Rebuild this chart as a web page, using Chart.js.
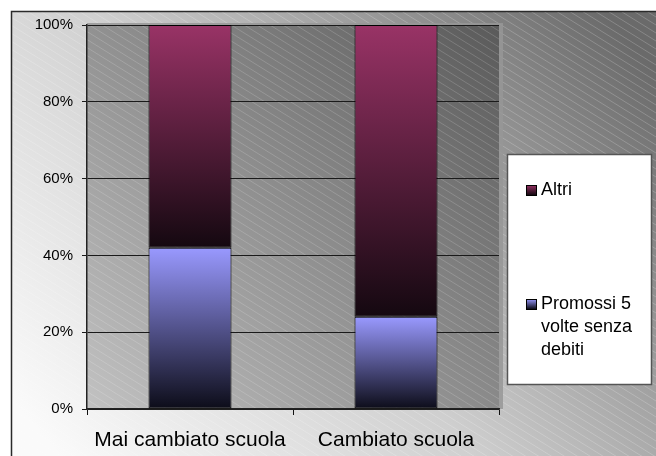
<!DOCTYPE html>
<html>
<head>
<meta charset="utf-8">
<style>
  html, body { margin: 0; padding: 0; background: #ffffff; }
  #wrap { width: 656px; height: 456px; position: relative; }
</style>
<script src="https://cdn.jsdelivr.net/npm/chart.js@4/dist/chart.umd.min.js"></script>
</head>
<body>
<div id="wrap"><canvas id="c" width="656" height="456"></canvas></div>
<script>
// Categories and series (percent of pupils in each group)
const categories = ['Mai cambiato scuola', 'Cambiato scuola'];
const promossiLabel = 'Promossi 5 volte senza debiti';
const promossiValues = [42, 24];
const altriLabel = 'Altri';
const altriValues = [58, 76];
const yTickValues = [0, 20, 40, 60, 80, 100];

const FONT = "Arial, 'Liberation Sans', sans-serif";

// vertical gradient for one stacked segment, bright at its top, dark at its base
function segmentGradient(chart, topColor, bottomColor, startVal, endVal) {
  const y = chart.scales.y;
  const g = chart.ctx.createLinearGradient(0, y.getPixelForValue(endVal), 0, y.getPixelForValue(startVal));
  g.addColorStop(0, topColor);
  g.addColorStop(1, bottomColor);
  return g;
}

const palettes = [
  { top: '#9999ff', bottom: '#0c0c18' },
  { top: '#993366', bottom: '#140810' }
];

function fillFor(dsIndex) {
  return function (ctx) {
    const chart = ctx.chart;
    if (!chart.chartArea || ctx.type !== 'data') return palettes[dsIndex].top;
    const i = ctx.dataIndex;
    let start = 0;
    for (let d = 0; d < dsIndex; d++) start += chart.data.datasets[d].data[i];
    const end = start + chart.data.datasets[dsIndex].data[i];
    return segmentGradient(chart, palettes[dsIndex].top, palettes[dsIndex].bottom, start, end);
  };
}

// diagonal light hatching over a rectangle
function hatch(ctx, x0, y0, x1, y1, alpha) {
  ctx.save();
  ctx.beginPath();
  ctx.rect(x0, y0, x1 - x0, y1 - y0);
  ctx.clip();
  ctx.strokeStyle = 'rgba(255,255,255,' + alpha + ')';
  ctx.lineWidth = 1;
  const slope = 0.62;
  const w = x1 - x0;
  for (let b = y0 - w * slope - 10; b < y1 + 10; b += 8) {
    ctx.beginPath();
    ctx.moveTo(x0, b);
    ctx.lineTo(x1, b + w * slope);
    ctx.stroke();
  }
  ctx.restore();
}

const backdrop = {
  id: 'backdrop',
  beforeDraw(chart) {
    const ctx = chart.ctx;
    const W = chart.width, H = chart.height;
    const a = chart.chartArea;
    ctx.save();
    // outer chart panel
    const og = ctx.createLinearGradient(60, H, W - 60, 0);
    og.addColorStop(0, '#fafafa');
    og.addColorStop(0.45, '#cfcfcf');
    og.addColorStop(1, '#6a6a6a');
    ctx.fillStyle = og;
    ctx.fillRect(11, 11, W, H);
    hatch(ctx, 11, 11, W, H, 0.2);
    ctx.strokeStyle = '#2a2a2a';
    ctx.lineWidth = 1.5;
    ctx.beginPath();
    ctx.moveTo(11.5, H + 2);
    ctx.lineTo(11.5, 11.5);
    ctx.lineTo(W + 2, 11.5);
    ctx.stroke();

    // raised wall rim
    ctx.fillStyle = 'rgba(150,150,150,0.85)';
    ctx.fillRect(a.left, a.top - 2, a.right - a.left + 4, a.bottom - a.top + 2);

    // plot wall
    const pg = ctx.createLinearGradient(a.left, a.bottom, a.right, a.top);
    pg.addColorStop(0, '#c2c2c2');
    pg.addColorStop(0.5, '#8e8e8e');
    pg.addColorStop(1, '#5a5a5a');
    ctx.fillStyle = pg;
    ctx.fillRect(a.left, a.top, a.right - a.left, a.bottom - a.top);
    hatch(ctx, a.left, a.top, a.right, a.bottom, 0.17);
    ctx.restore();
  }
};

// boxed legend on the right
const sideLegend = {
  id: 'sideLegend',
  afterDraw(chart) {
    const ctx = chart.ctx;
    const box = { x: 507.5, y: 154.5, w: 144, h: 230 };
    ctx.save();
    ctx.fillStyle = '#ffffff';
    ctx.fillRect(box.x, box.y, box.w, box.h);
    ctx.strokeStyle = '#555555';
    ctx.lineWidth = 1.5;
    ctx.strokeRect(box.x, box.y, box.w, box.h);

    const entries = [
      { ds: 1, y: 190 },
      { ds: 0, y: 304 }
    ];
    ctx.font = '18px ' + FONT;
    ctx.textBaseline = 'middle';
    ctx.textAlign = 'left';
    for (const e of entries) {
      const label = chart.data.datasets[e.ds].label;
      // wrap the label to the box width
      const words = label.split(' ');
      const lines = [];
      let cur = '';
      for (const w of words) {
        const t = cur ? cur + ' ' + w : w;
        if (ctx.measureText(t).width > 100 && cur) { lines.push(cur); cur = w; } else cur = t;
      }
      lines.push(cur);
      const sx = 526, sy = e.y - 5;
      const sg = ctx.createLinearGradient(0, sy, 0, sy + 10);
      sg.addColorStop(0, palettes[e.ds].top);
      sg.addColorStop(1, palettes[e.ds].bottom);
      ctx.fillStyle = sg;
      ctx.fillRect(sx, sy, 10, 10);
      ctx.strokeStyle = '#000';
      ctx.lineWidth = 1;
      ctx.strokeRect(sx + 0.5, sy + 0.5, 10, 10);
      ctx.fillStyle = '#000';
      lines.forEach((ln, k) => ctx.fillText(ln, 541, e.y + k * 23));
    }
    ctx.restore();
  }
};

new Chart(document.getElementById('c'), {
  type: 'bar',
  data: {
    labels: categories,
    datasets: [
      { label: promossiLabel, data: promossiValues, backgroundColor: fillFor(0),
        borderColor: '#000', borderWidth: 1, borderSkipped: false },
      { label: altriLabel, data: altriValues, backgroundColor: fillFor(1),
        borderColor: '#000', borderWidth: 1, borderSkipped: false }
    ]
  },
  options: {
    responsive: false,
    animation: false,
    devicePixelRatio: 1,
    layout: { padding: { left: 0, top: 25, right: 157, bottom: 0 } },
    datasets: { bar: { categoryPercentage: 1, barPercentage: 0.403 } },
    plugins: { legend: { display: false }, tooltip: { enabled: false } },
    scales: {
      x: {
        stacked: true,
        afterFit(s) { s.height = 47; },
        grid: { offset: true, drawOnChartArea: false, color: '#111', tickLength: 6 },
        border: { color: '#222', width: 1.5 },
        ticks: { color: '#000', font: { family: FONT, size: 21 }, padding: 13, maxRotation: 0 }
      },
      y: {
        stacked: true,
        min: 0, max: 100,
        afterFit(s) { s.width = 87; },
        afterBuildTicks(s) { s.ticks = yTickValues.map(v => ({ value: v })); },
        grid: { color: '#1a1a1a', lineWidth: 1, tickLength: 5 },
        border: { color: '#222', width: 1.5 },
        ticks: { color: '#000', font: { family: FONT, size: 15 }, padding: 9,
                 callback: v => v + '%' }
      }
    }
  },
  plugins: [backdrop, sideLegend]
});
</script>
</body>
</html>
